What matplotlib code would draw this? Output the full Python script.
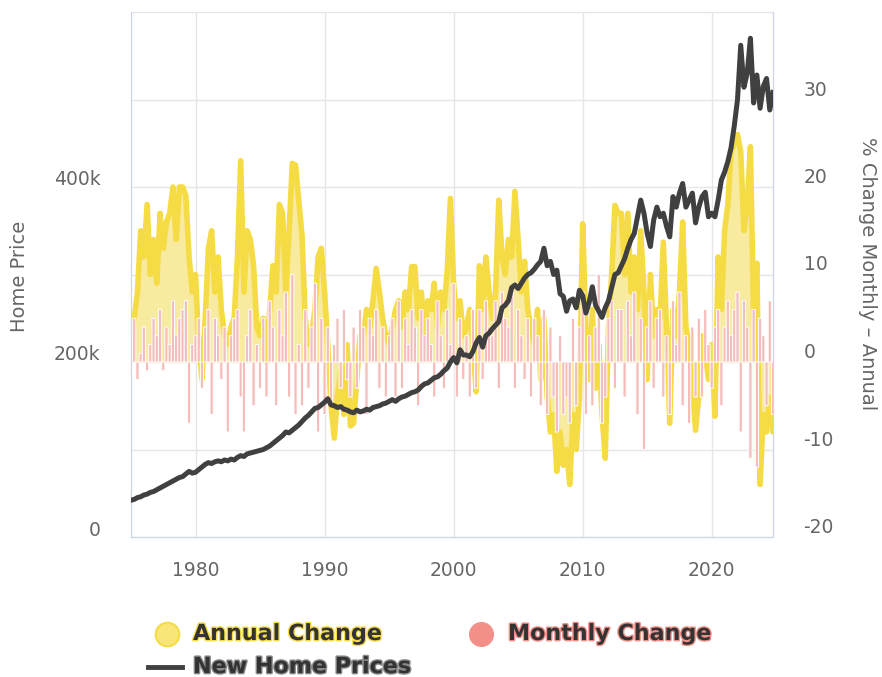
import matplotlib
matplotlib.use("Agg")
import matplotlib.pyplot as plt
import matplotlib.patheffects as pe
from matplotlib.lines import Line2D
from matplotlib.transforms import ScaledTranslation

# ---- Data (quarterly readings, 1975 Q1 .. 2024 Q4) ----
YEARS = list(range(1975, 2025))

HOME_PRICE_K = [
    42, 43, 45, 46,      # 1975
    48, 49, 51, 52,      # 1976
    54, 56, 58, 60,      # 1977
    62, 64, 66, 68,      # 1978
    69, 72, 75, 73,      # 1979
    74, 77, 80, 83,      # 1980
    85, 84, 86, 87,      # 1981
    86, 88, 87, 89,      # 1982
    88, 91, 93, 92,      # 1983
    95, 96, 97, 98,      # 1984
    99, 100, 102, 104,   # 1985
    107, 110, 113, 116,  # 1986
    120, 119, 122, 125,  # 1987
    128, 132, 136, 139,  # 1988
    143, 147, 148, 151,  # 1989
    154, 158, 151, 150,  # 1990
    148, 149, 146, 145,  # 1991
    143, 142, 145, 143,  # 1992
    144, 146, 145, 148,  # 1993
    149, 150, 152, 153,  # 1994
    155, 157, 155, 158,  # 1995
    160, 161, 163, 165,  # 1996
    166, 168, 172, 175,  # 1997
    176, 179, 182, 183,  # 1998
    186, 190, 193, 200,  # 1999
    205, 199, 214, 208,  # 2000
    208, 206, 212, 222,  # 2001
    228, 217, 230, 233,  # 2002
    238, 242, 246, 262,  # 2003
    265, 270, 285, 288,  # 2004
    284, 290, 296, 300,  # 2005
    302, 306, 311, 315,  # 2006
    330, 310, 315, 300,  # 2007
    305, 278, 275, 258,  # 2008
    270, 272, 262, 282,  # 2009
    276, 256, 268, 286,  # 2010
    265, 258, 251, 262,  # 2011
    270, 285, 300, 302,  # 2012
    310, 318, 330, 340,  # 2013
    347, 366, 385, 370,  # 2014
    347, 332, 362, 377,  # 2015
    366, 370, 355, 343,  # 2016
    389, 377, 393, 404,  # 2017
    377, 385, 393, 359,  # 2018
    377, 389, 394, 366,  # 2019
    370, 366, 385, 408,  # 2020
    417, 429, 445, 470,  # 2021
    500, 562, 514, 530,  # 2022
    570, 496, 528, 490,  # 2023
    515, 524, 488, 508,  # 2024
]

ANNUAL_CHANGE = [
    1, 5, 8, 15,          # 1975
    12, 18, 10, 14,       # 1976
    9, 17, 13, 16,        # 1977
    17, 20, 14, 20,       # 1978
    20, 19, 12, 8,        # 1979
    10, 2, -2, 5,         # 1980
    13, 15, 8, 12,        # 1981
    6, 3, 2, 4,           # 1982
    5, 12, 23, 8,         # 1983
    15, 14, 11, 4,        # 1984
    3, 5, 0, 6,           # 1985
    11, 8, 18, 17,        # 1986
    8, 15, 22.7, 22.5,    # 1987
    18.5, 14.5, 5, 2,     # 1988
    3, 6, 12, 13,         # 1989
    8, 2, -5, -8.7,       # 1990
    -4, -1, -6, 2,        # 1991
    -7.3, -7, -2, 3,      # 1992
    3, 6, 4, 7,           # 1993
    10.7, 8, 5, 3,        # 1994
    2, 4, 6, 7,           # 1995
    4, 8, 6, 10.9,        # 1996
    10.9, 5, 8, 3,        # 1997
    7, 6, 9, 4,           # 1998
    8, 6, 10.3, 18.7,     # 1999
    9, 5, 7, 3,           # 2000
    4, 6, 2, -3.4,        # 2001
    11, 6, 12, 8,         # 2002
    5, 8, 18.5, 12,       # 2003
    10, 14, 12, 19.5,     # 2004
    14, 8, 11.5, 6,       # 2005
    4, 2, 6, -2,          # 2006
    5, -4, -8, -6,        # 2007
    -12.5, -8, -11.8, -10,  # 2008
    -14, -6, -10, -4,     # 2009
    15.8, 4, -2, 6,       # 2010
    -3, 2, -6, -11,       # 2011
    4, 10, 17.9, 17,      # 2012
    17, 10, 17, 8,        # 2013
    12, 6, 15, 8,         # 2014
    -2, 10, 3, 6,         # 2015
    5, 13.7, 4, -7,       # 2016
    6, 3, 8, 16,          # 2017
    4, 2, -3, -7.8,       # 2018
    -4, 3, 1, -2,         # 2019
    2, -6.2, 12, 6,       # 2020
    15, 18, 24, 25,       # 2021
    26, 24, 15, 18,       # 2022
    24.6, 5, 11.3, -14,   # 2023
    -6, -8, -4, -8,       # 2024
]

MONTHLY_CHANGE = [
    3, 5, -2, 1,      # 1975
    4, -1, 2, 5,      # 1976
    3, 6, -1, 4,      # 1977
    2, 7, 3, 5,       # 1978
    6, 7, -7, 2,      # 1979
    3, 5, -3, 4,      # 1980
    6, -6, 5, 3,      # 1981
    -2, 4, -8, 3,     # 1982
    5, 6, -4, -8,     # 1983
    3, 6, -5, 2,      # 1984
    -3, 5, -4, 7,     # 1985
    4, -5, 6, 3,      # 1986
    8, -4, 10, -6,    # 1987
    2, -5, 6, -3,     # 1988
    4, 9, -8, 5,      # 1989
    -6, 4, -5, 2,     # 1990
    5, -3, 6, -2,     # 1991
    -4, 4, -3, 6,     # 1992
    4, -6, 5, 3,      # 1993
    6, -3, 4, -4,     # 1994
    3, 5, -4, 7,      # 1995
    -3, 5, 2, 6,      # 1996
    4, -5, 6, 3,      # 1997
    5, 2, -4, 7,      # 1998
    3, -3, 6, 2,      # 1999
    9, -4, 5, -2,     # 2000
    3, -4, 6, -3,     # 2001
    6, -2, 7, 4,      # 2002
    3, 7, -3, 8,      # 2003
    5, 4, 8, -3,      # 2004
    6, 3, -2, 5,      # 2005
    -4, 5, 3, -5,     # 2006
    6, -6, 4, -4,     # 2007
    -8, 3, -6, -4,    # 2008
    -7, 5, -5, 4,     # 2009
    8, -6, 3, -5,     # 2010
    4, 10, -7, -4,    # 2011
    5, 7, -3, 6,      # 2012
    6, -4, 7, 3,      # 2013
    8, -6, 5, -10,    # 2014
    4, 7, -3, 5,      # 2015
    6, -4, 3, -6,     # 2016
    7, 2, 8, -5,      # 2017
    3, -7, 4, -4,     # 2018
    5, -4, 6, 2,      # 2019
    -3, 4, 6, -5,     # 2020
    4, 7, 3, 6,       # 2021
    8, -8, 7, 4,      # 2022
    -11, 6, -12, 5,   # 2023
    3, -5, 7, -6,     # 2024
]

DECADES = [1980, 1990, 2000, 2010, 2020]
PCT_TICKS = [-20, -10, 0, 10, 20, 30, 40]
PCT_LABELS = ["-20", "-10", "0", "10", "20", "30", ""]
PRICE_TICKS = [0, 200000, 400000]
PRICE_LABELS = ["0", "200k", "400k"]

YELLOW = "#f5dc45"
YELLOW_FILL = "#f8ea9e"
PINK_BAR = "#f4bcba"
PINK = "#f28f88"
DARK = "#404040"
GRID = "#e6e6e6"
AXIS_LINE = "#ccd6eb"
LABEL = "#666666"

dates = [y + q * 0.25 for y in YEARS for q in range(4)]
prices = [p * 1000 for p in HOME_PRICE_K]

W, H = 882, 677
fig = plt.figure(figsize=(W / 100, H / 100), dpi=100)
ax = fig.add_axes([131 / W, (H - 537) / H, 642 / W, 525 / H])

# percent series (right axis)
ax.fill_between(dates, ANNUAL_CHANGE, 0, color=YELLOW_FILL, lw=0, zorder=1)
ax.plot(dates, ANNUAL_CHANGE, color=YELLOW, lw=4, solid_joinstyle="round",
        solid_capstyle="round", zorder=2)
ax.bar(dates, MONTHLY_CHANGE, width=0.25, color=PINK_BAR, edgecolor="white",
       linewidth=0.7, snap=False, zorder=3)
ax.set_xlim(1975, 2024.75)
ax.set_ylim(-20, 40)

# price series (left axis), drawn on top
ax2 = ax.twinx()
ax2.plot(dates, prices, color=DARK, lw=3.6, solid_joinstyle="round", zorder=5)
ax2.set_ylim(0, 600000)

ax.yaxis.tick_right()
ax.yaxis.set_label_position("right")
ax2.yaxis.tick_left()
ax2.yaxis.set_label_position("left")

ax.set_xticks(DECADES)
ax.set_xticklabels([str(d) for d in DECADES])
ax.set_yticks(PCT_TICKS)
ax.set_yticklabels(PCT_LABELS)
ax2.set_yticks(PRICE_TICKS)
ax2.set_yticklabels(PRICE_LABELS)

ax.set_axisbelow(True)
ax.grid(True, color=GRID, lw=1)
ax.tick_params(length=0, labelsize=13.5, labelcolor=LABEL)
ax.tick_params(axis="x", pad=17)
ax.tick_params(axis="y", pad=22)
ax2.tick_params(length=0, labelsize=13.5, labelcolor=LABEL, pad=22)

for a in (ax, ax2):
    for side in ("left", "right", "bottom"):
        a.spines[side].set_color(AXIS_LINE)
    a.spines["top"].set_visible(False)

up_r = ScaledTranslation(0, 0.115, fig.dpi_scale_trans)
up_l = ScaledTranslation(0, 0.09, fig.dpi_scale_trans)
for lbl in ax.get_yticklabels():
    lbl.set_transform(lbl.get_transform() + up_r)
for lbl in ax2.get_yticklabels():
    lbl.set_transform(lbl.get_transform() + up_l)

ax2.set_ylabel("Home Price", fontsize=14, color=LABEL, va="center", ha="center")
ax2.yaxis.set_label_coords((20 - 131) / 642, (537 - 276) / 525)
ax.set_ylabel("% Change Monthly \u2013 Annual", fontsize=14, color=LABEL,
              rotation=270, va="center", ha="center")
ax.yaxis.set_label_coords((868 - 131) / 642, (537 - 274) / 525)

# legend, drawn by hand
def fx(px):
    return px / W

def fy(py):
    return 1 - py / H

fig.add_artist(Line2D([fx(167)], [fy(634)], marker="o", markersize=17,
                      markerfacecolor="#f8e678", markeredgecolor=YELLOW,
                      markeredgewidth=1.5, linestyle="none"))
fig.add_artist(Line2D([fx(481)], [fy(634)], marker="o", markersize=17,
                      markerfacecolor=PINK, markeredgecolor=PINK,
                      linestyle="none"))
fig.add_artist(Line2D([fx(148), fx(182)], [fy(667), fy(667)], color=DARK, lw=3.5))

leg_items = [
    ("Annual Change", 193, 634, YELLOW),
    ("Monthly Change", 508, 634, PINK),
    ("New Home Prices", 193, 667, "#8a8a8a"),
]
for text, x, y, col in leg_items:
    fig.text(fx(x), fy(y), text, fontsize=16, fontweight="bold", color="#333333",
             ha="left", va="center",
             path_effects=[pe.withStroke(linewidth=2, foreground=col)])

fig.savefig("out.png", dpi=100)
